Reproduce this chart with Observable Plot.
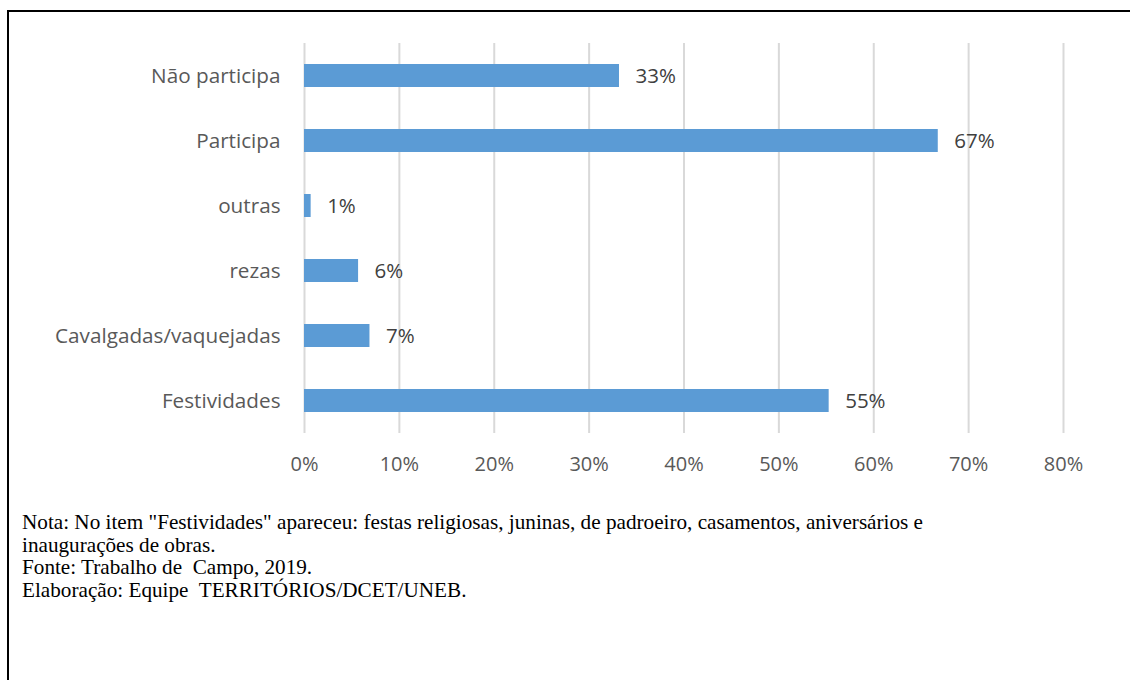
<!DOCTYPE html>
<html>
<head>
<meta charset="utf-8">
<script src="https://cdn.jsdelivr.net/npm/d3@7"></script>
<script src="https://cdn.jsdelivr.net/npm/@observablehq/plot@0.6"></script>
<style>
  html, body { margin: 0; padding: 0; background: #fff; }
  body { width: 1130px; height: 680px; position: relative; overflow: hidden; }
  #frame { position: absolute; left: 7px; top: 10px; width: 1200px; height: 800px;
           border-left: 2px solid #000; border-top: 2px solid #000; box-sizing: border-box; }
  #chart { position: absolute; left: 0; top: 0; }
  #caption { position: absolute; left: 22px; top: 511px; font-family: "Liberation Serif", "Times New Roman", serif;
             font-size: 21.2px; line-height: 22.7px; color: #000; white-space: pre; }
</style>
</head>
<body>
<div id="frame"></div>
<div id="chart"></div>
<div id="caption"></div>
<script>
const categories = ["Não participa", "Participa", "outras", "rezas", "Cavalgadas/vaquejadas", "Festividades"];
const values = [33.2, 66.8, 0.7, 5.7, 6.9, 55.3];
const xTicks = [0, 10, 20, 30, 40, 50, 60, 70, 80];
const captionLines = [
  "Nota: No item \"Festividades\" apareceu: festas religiosas, juninas, de padroeiro, casamentos, aniversários e",
  "inaugurações de obras.",
  "Fonte: Trabalho de  Campo, 2019.",
  "Elaboração: Equipe  TERRITÓRIOS/DCET/UNEB."
];

const data = categories.map((c, i) => ({category: c, value: values[i]}));

const chart = Plot.plot({
  width: 1130,
  height: 490,
  marginLeft: 304,
  marginRight: 67,
  marginTop: 43,
  marginBottom: 57,
  style: {fontFamily: "'Open Sans', Lato, sans-serif", fontSize: "20px", color: "#595959", background: "transparent"},
  x: {domain: [0, 80], ticks: xTicks, tickFormat: d => d + "%", label: null},
  y: {domain: categories, label: null, paddingInner: 0.645, paddingOuter: 0.3225},
  marks: [
    Plot.gridX(xTicks, {stroke: "#D9D9D9", strokeOpacity: 1, strokeWidth: 2}),
    Plot.barX(data, {x: "value", y: "category", fill: "#5B9BD5"}),
    Plot.text(data, {x: "value", y: "category", text: d => Math.round(d.value) + "%", textAnchor: "start", dx: 16, fill: "#404040", fontSize: 20.5}),
    Plot.axisX({ticks: xTicks, tickFormat: d => d + "%", tickSize: 0, tickPadding: 23, label: null, fill: "#595959"}),
    Plot.axisY({tickSize: 0, tickPadding: 24, label: null, fill: "#595959", fontSize: 20.7})
  ]
});
document.getElementById("chart").appendChild(chart);
document.getElementById("caption").textContent = captionLines.join("\n");
</script>
</body>
</html>
